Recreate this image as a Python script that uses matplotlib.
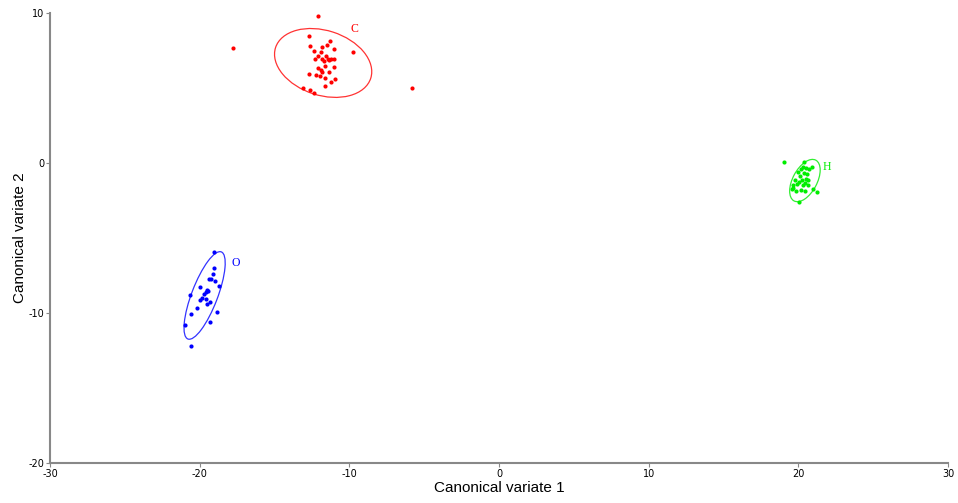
import matplotlib
matplotlib.use("Agg")
import matplotlib.pyplot as plt
from matplotlib.patches import Ellipse

plt.rcParams["axes.unicode_minus"] = False

# group C (red)
c_x = [-12.1, -17.8, -5.8, -9.75, -12.67, -12.6, -11.3, -11.5, -11.8, -12.36, -11.0, -11.9,
       -12.1, -12.27, -11.8, -11.56, -11.44, -11.2, -11.04, -11.7, -11.33, -11.6, -11.0,
       -12.07, -11.9, -11.8, -11.38, -12.7, -12.2, -11.96, -11.6, -10.96, -11.2, -13.1,
       -12.6, -12.34, -11.6]
c_y = [9.8, 7.7, 5.0, 7.4, 8.49, 7.78, 8.15, 7.89, 7.73, 7.45, 7.58, 7.38,
       7.13, 6.95, 6.95, 7.13, 6.93, 6.93, 6.93, 6.8, 6.85, 6.47, 6.42,
       6.31, 6.2, 6.09, 6.07, 5.93, 5.89, 5.78, 5.64, 5.62, 5.42, 5.02,
       4.89, 4.67, 5.13]

# group O (blue)
o_x = [-19.04, -19.06, -19.1, -19.4, -19.26, -19.0, -18.7, -20.0, -19.5, -19.42, -19.55,
       -20.66, -19.7, -19.86, -19.97, -19.6, -19.3, -19.5, -20.2, -18.82, -20.57, -19.28,
       -21.0, -20.55]
o_y = [-5.93, -6.98, -7.38, -7.73, -7.73, -7.89, -8.22, -8.24, -8.47, -8.51, -8.58,
       -8.82, -8.73, -8.98, -9.15, -9.09, -9.29, -9.38, -9.65, -9.93, -10.05, -10.62,
       -10.8, -12.2]

# group H (green)
h_x = [19.06, 20.39, 20.17, 20.31, 20.51, 20.91, 20.73, 19.95, 20.39, 20.59, 20.13, 20.51,
       19.75, 20.26, 20.66, 20.06, 20.46, 19.91, 19.64, 20.33, 20.64, 19.57, 19.66, 20.15,
       20.44, 21.22, 21.0, 19.84, 20.06]
h_y = [0.09, 0.05, -0.40, -0.29, -0.31, -0.29, -0.42, -0.60, -0.69, -0.73, -0.87, -1.05,
       -1.13, -1.11, -1.13, -1.29, -1.31, -1.42, -1.49, -1.45, -1.49, -1.75, -1.69, -1.80,
       -1.85, -1.91, -1.71, -1.87, -2.58]

# confidence ellipses: centre, width, height, angle
ell_c = ((-11.75, 6.67), 6.68, 4.32, -17.8)
ell_o = ((-19.67, -8.83), 6.22, 1.73, 69.0)
ell_h = ((20.44, -1.17), 3.08, 1.62, 61.8)

groups = [
    ("C", c_x, c_y, ell_c, "#ff0000", "#ff3333", (-9.9, 8.9)),
    ("O", o_x, o_y, ell_o, "#0000ff", "#3333ff", (-17.85, -6.65)),
    ("H", h_x, h_y, ell_h, "#00ee00", "#33ee33", (21.6, -0.25)),
]

fig = plt.figure(figsize=(9.58, 5.03), dpi=100)
ax = fig.add_axes([50 / 958, 40 / 503, 898 / 958, 450 / 503])

for name, xs, ys, (cen, w, h, ang), col, ecol, lab in groups:
    ax.scatter(xs, ys, s=9, color=col, linewidths=0, zorder=3)
    ax.add_patch(Ellipse(cen, w, h, angle=ang, fill=False, edgecolor=ecol, lw=0.9))
    ax.text(lab[0], lab[1], name, color=col, fontsize=8.5, family="Liberation Serif",
            ha="left", va="center")

ax.set_xlim(-30, 30)
ax.set_ylim(-20, 10)
ax.set_xticks([-30, -20, -10, 0, 10, 20, 30])
ax.set_yticks([-20, -10, 0, 10])
for s in ["top", "right"]:
    ax.spines[s].set_visible(False)
for s in ["left", "bottom"]:
    ax.spines[s].set_color("#888888")
    ax.spines[s].set_linewidth(1.5)
ax.tick_params(length=3, width=0.8, color="#888888", labelsize=7, pad=1)
ax.set_xlabel("Canonical variate 1", fontsize=11, family="Liberation Sans")
ax.set_ylabel("Canonical variate 2", fontsize=11, family="Liberation Sans")
ax.xaxis.set_label_coords(0.5, -(481 - 463) / 450)
ax.yaxis.set_label_coords(-(50 - 27) / 898, 0.5)

fig.savefig("out.png", dpi=100)
